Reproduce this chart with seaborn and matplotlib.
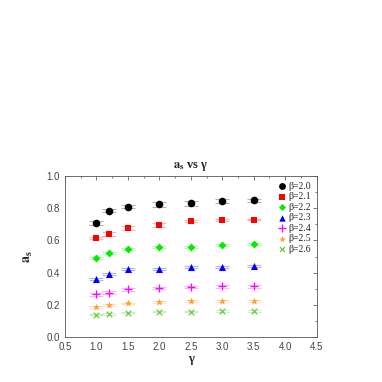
import matplotlib
matplotlib.use("Agg")
import matplotlib.pyplot as plt
import seaborn as sns
import pandas as pd
import numpy as np
from matplotlib.ticker import MultipleLocator

gamma = [1.0, 1.2, 1.5, 2.0, 2.5, 3.0, 3.5]
betas = ["2.0", "2.1", "2.2", "2.3", "2.4", "2.5", "2.6"]

a_b20 = [0.71, 0.785, 0.81, 0.825, 0.83, 0.845, 0.85]
a_b21 = [0.615, 0.64, 0.675, 0.695, 0.72, 0.725, 0.73]
a_b22 = [0.49, 0.52, 0.548, 0.56, 0.56, 0.57, 0.575]
a_b23 = [0.36, 0.39, 0.42, 0.425, 0.435, 0.435, 0.44]
a_b24 = [0.265, 0.275, 0.295, 0.305, 0.31, 0.315, 0.315]
a_b25 = [0.185, 0.198, 0.208, 0.218, 0.222, 0.224, 0.224]
a_b26 = [0.138, 0.142, 0.15, 0.157, 0.158, 0.162, 0.162]

err_b20 = [0.012, 0.008, 0.01, 0.015, 0.015, 0.01, 0.008]
err_b21 = [0.008, 0.01, 0.012, 0.012, 0.008, 0.006, 0.006]
err_b22 = [0.006, 0.006, 0.006, 0.006, 0.006, 0.006, 0.006]
err_b23 = [0.006, 0.006, 0.006, 0.006, 0.006, 0.006, 0.006]
err_b24 = [0.008, 0.008, 0.008, 0.008, 0.008, 0.008, 0.008]
err_b25 = [0.006, 0.006, 0.006, 0.006, 0.006, 0.006, 0.006]
err_b26 = [0.004, 0.004, 0.004, 0.004, 0.004, 0.004, 0.004]

values = [a_b20, a_b21, a_b22, a_b23, a_b24, a_b25, a_b26]
errors = [err_b20, err_b21, err_b22, err_b23, err_b24, err_b25, err_b26]

colors = ["#000000", "#ff0000", "#00ee00", "#0000ff", "#ff00ff", "#ffa030", "#66cc44"]
markers = ["o", "s", "D", "^", "+", "*", "x"]
sizes = [30, 22, 16, 26, 35, 32, 16]

rows = []
for b, vals, errs in zip(betas, values, errors):
    for g, v, e in zip(gamma, vals, errs):
        rows.append({"gamma": g, "a_s": v, "err": e, "beta": "β=" + b})
df = pd.DataFrame(rows)

sns.set_style("white")
plt.rcParams["font.family"] = ["Liberation Sans", "DejaVu Sans"]
plt.rcParams["mathtext.fontset"] = "stix"

fig = plt.figure(figsize=(3.82, 3.82), dpi=100)
ax = fig.add_axes([0.170, 0.118, 0.659, 0.421])

for i, b in enumerate(betas):
    sub = df[df["beta"] == "β=" + b]
    ax.errorbar(sub["gamma"], sub["a_s"], yerr=sub["err"], fmt="none",
                ecolor=colors[i], alpha=0.3, elinewidth=0.8, capsize=5,
                capthick=0.8, zorder=1)
    sns.scatterplot(data=sub, x="gamma", y="a_s", ax=ax, color=colors[i],
                    marker=markers[i], s=sizes[i], label="β=" + b,
                    linewidth=0.9 if markers[i] in ["+", "x"] else 0,
                    edgecolor=colors[i] if markers[i] not in ["+", "x"] else None,
                    zorder=3)

ax.set_xlim(0.5, 4.5)
ax.set_ylim(0.0, 1.0)
ax.xaxis.set_major_locator(MultipleLocator(0.5))
ax.xaxis.set_minor_locator(MultipleLocator(0.25))
ax.yaxis.set_major_locator(MultipleLocator(0.2))
ax.yaxis.set_minor_locator(MultipleLocator(0.1))
ax.xaxis.set_major_formatter(matplotlib.ticker.FormatStrFormatter("%.1f"))
ax.yaxis.set_major_formatter(matplotlib.ticker.FormatStrFormatter("%.1f"))
ax.tick_params(which="both", direction="in", top=True, right=True,
               labelsize=7, width=0.5, colors="#444444")
ax.tick_params(which="major", length=3)
ax.tick_params(which="minor", length=1.5)
for sp in ax.spines.values():
    sp.set_linewidth(0.6)
    sp.set_color("#555555")

ax.set_xlabel("γ", fontsize=9, fontweight="bold", family="Liberation Serif",
              labelpad=1)
ax.set_ylabel(r"$\mathbf{a_s}$", fontsize=10, labelpad=8)
ax.set_title(r"$\mathbf{a_s}$ vs γ", fontsize=9, fontweight="bold",
             family="Liberation Serif", pad=6)

leg = ax.legend(loc="upper right", frameon=False,
                prop={"family": "Liberation Serif", "size": 7},
                handletextpad=0.1, labelspacing=0.15, borderaxespad=0.2,
                handlelength=1.0, markerscale=0.9)

fig.savefig("out.png", dpi=100)
